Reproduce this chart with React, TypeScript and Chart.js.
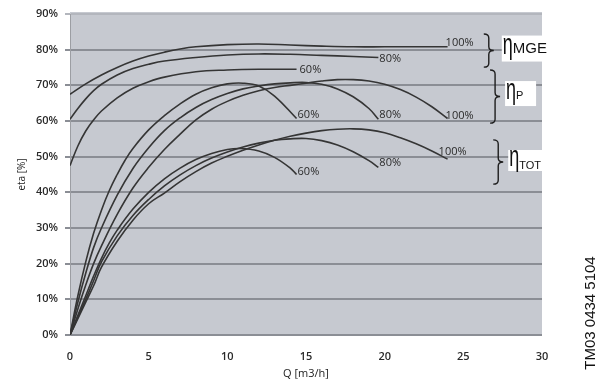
import { useEffect, useRef } from 'react';
import { Chart, registerables } from 'chart.js';

Chart.register(...registerables);

// ---------- data ----------
const yTickValues = [0, 10, 20, 30, 40, 50, 60, 70, 80, 90];
const xTickValues = [0, 5, 10, 15, 20, 25, 30];

// eta MGE
const qMge100 = [0, 1, 2, 3, 4, 5, 6, 7, 8, 10, 12, 14, 16, 18, 20, 22, 24];
const etaMge100 = [67.5, 70.4, 72.9, 75, 76.8, 78.2, 79.3, 80.2, 80.8, 81.4, 81.6, 81.3, 81, 80.8, 80.8, 80.8, 80.8];
const qMge80 = [0, 0.5, 1, 1.5, 2, 3, 4, 5, 6, 8, 10, 12, 14, 16, 18, 19.6];
const etaMge80 = [60.5, 63.5, 66.2, 68.5, 70.3, 72.9, 74.7, 75.9, 76.8, 77.8, 78.5, 78.8, 78.7, 78.4, 78.1, 77.8];
const qMge60 = [0, 0.5, 1, 1.5, 2, 3, 4, 5, 6, 8, 10, 12, 14.4];
const etaMge60 = [47.5, 53, 57.2, 60.3, 62.8, 66.5, 69.2, 71, 72.3, 73.8, 74.3, 74.5, 74.5];

// eta P
const qP60 = [0, 0.5, 1, 1.5, 2, 2.5, 3, 3.5, 4, 5, 6, 7, 8, 9, 10, 11, 12, 13, 14.4];
const etaP60 = [0, 11, 20.5, 28.5, 35, 40.5, 45, 49, 52.3, 57.5, 61.5, 64.8, 67.5, 69.3, 70.4, 70.6, 69.8, 67, 60.7];
const qP80 = [0, 0.5, 1, 1.5, 2, 3, 4, 5, 6, 7, 8, 9, 10, 11, 12, 13, 14, 15, 16, 17, 18, 19, 19.6];
const etaP80 = [0, 9.2, 17.3, 24.5, 30, 39.2, 46.7, 52.5, 57.3, 60.9, 63.8, 66, 67.7, 69, 69.8, 70.4, 70.7, 70.8, 70.3, 69, 66.8, 63.5, 60.5];
const qP100 = [0, 0.5, 1, 1.5, 2, 3, 4, 5, 6, 7, 8, 9, 10, 11, 12, 13, 14, 15, 16, 17, 18, 19, 20, 21, 22, 23, 24];
const etaP100 = [0, 7.3, 14, 20, 25, 33.8, 41.2, 47, 52, 56.3, 60.3, 63.3, 65.5, 67.2, 68.5, 69.4, 70, 70.6, 71.2, 71.6, 71.6, 71.2, 70.3, 68.8, 66.7, 64, 60.7];

// eta TOT
const qTot60 = [0, 0.5, 1, 1.5, 2, 2.5, 3, 4, 5, 6, 7, 8, 9, 10, 10.8, 12, 13, 14, 14.4];
const etaTot60 = [0, 5.5, 11, 16.5, 21.5, 25.8, 29.4, 35.3, 40, 43.8, 46.8, 49.2, 50.9, 52, 52.3, 51.6, 49.8, 46.8, 45];
const qTot80 = [0, 0.5, 1, 1.5, 2, 3, 4, 5, 6, 7, 8, 9, 10, 11, 12, 13, 14, 15, 16, 17, 18, 19, 19.6];
const etaTot80 = [0, 5, 10, 15.2, 20.5, 27.8, 33.5, 38, 41.8, 44.9, 47.5, 49.6, 51.3, 52.7, 53.8, 54.6, 55, 55.1, 54.5, 53.3, 51.4, 48.9, 47];
const qTot100 = [0, 0.5, 1, 1.5, 2, 3, 4, 5, 6, 7, 8, 9, 10, 11, 12, 13, 14, 15, 16, 17, 18, 19, 20, 21, 22, 23, 24];
const etaTot100 = [0, 4.6, 9.2, 13.8, 19, 26.3, 32.2, 36.8, 39.8, 43, 45.8, 48.2, 50.1, 51.8, 53.3, 54.6, 55.7, 56.6, 57.3, 57.7, 57.8, 57.5, 56.7, 55.3, 53.6, 51.6, 49.3];

const endLabels = ['100%', '80%', '60%', '60%', '80%', '100%', '60%', '80%', '100%'];

// group annotations (data coordinates of the braces)
const groupNames = ['MGE', 'P', 'TOT'];
const braceX = [26.3, 26.7, 26.9];
const braceTop = [84.4, 74.3, 54.7];
const braceBottom = [75.1, 59.4, 42.3];

const figureId = 'TM03 0434 5104';

// ---------- styles ----------
const labelOffsets: [number, number][] = [
  [-2, -0.5], [1, 4], [3, 4],
  [1, -1], [1, -1], [-2, 0],
  [1, 0], [1, -1], [-9, -4],
];
const groupBox = [
  { gap: 8, w: 46, h: 26, dy: -2, subSize: 15, subDy: -0.5 },
  { gap: 5, w: 31, h: 25, dy: -3, subSize: 11, subDy: 0 },
  { gap: 5, w: 35, h: 21, dy: -1.5, subSize: 11, subDy: 3 },
];

const curves = [
  [qMge100, etaMge100], [qMge80, etaMge80], [qMge60, etaMge60],
  [qP60, etaP60], [qP80, etaP80], [qP100, etaP100],
  [qTot60, etaTot60], [qTot80, etaTot80], [qTot100, etaTot100],
];

const annotate = {
  id: 'annotate',
  beforeDraw(chart: any) {
    const { ctx, chartArea: a } = chart;
    ctx.save();
    ctx.fillStyle = '#c6c9d0';
    ctx.fillRect(a.left, a.top - 2, a.right - a.left, a.bottom - a.top + 2);
    ctx.restore();
  },
  afterDraw(chart: any) {
    const { ctx } = chart;
    const xs = chart.scales.x;
    const ys = chart.scales.y;
    ctx.save();
    // end labels
    ctx.font = '11px "Open Sans"';
    ctx.fillStyle = '#2a2a2a';
    ctx.textAlign = 'left';
    ctx.textBaseline = 'alphabetic';
    curves.forEach(([q, e], i) => {
      const px = xs.getPixelForValue(q[q.length - 1]);
      const py = ys.getPixelForValue(e[e.length - 1]);
      ctx.fillText(endLabels[i], px + labelOffsets[i][0], py + labelOffsets[i][1]);
    });
    // braces + group names
    groupNames.forEach((name, i) => {
      const x0 = xs.getPixelForValue(braceX[i]);
      const t = ys.getPixelForValue(braceTop[i]);
      const b = ys.getPixelForValue(braceBottom[i]);
      const m = (t + b) / 2;
      const w = 10;
      const r = 4;
      ctx.strokeStyle = '#1e1e1e';
      ctx.lineWidth = 1.4;
      ctx.beginPath();
      ctx.moveTo(x0, t);
      ctx.quadraticCurveTo(x0 + w / 2, t, x0 + w / 2, t + r);
      ctx.lineTo(x0 + w / 2, m - r);
      ctx.quadraticCurveTo(x0 + w / 2, m, x0 + w, m);
      ctx.quadraticCurveTo(x0 + w / 2, m, x0 + w / 2, m + r);
      ctx.lineTo(x0 + w / 2, b - r);
      ctx.quadraticCurveTo(x0 + w / 2, b, x0, b);
      ctx.stroke();
      const g = groupBox[i];
      const bx = x0 + w + g.gap;
      const by = m + g.dy - g.h / 2;
      ctx.fillStyle = '#ffffff';
      ctx.fillRect(bx, by, g.w, g.h);
      ctx.fillStyle = '#111';
      const base = m + g.dy + 5;
      ctx.save();
      ctx.translate(bx + 1, base);
      ctx.scale(0.62, 1);
      ctx.font = '29px "Liberation Sans"';
      ctx.fillText('η', 0, 0);
      ctx.restore();
      ctx.font = g.subSize + 'px "Liberation Sans"';
      ctx.fillText(name, bx + 11, base + g.subDy);
    });
    // figure id
    ctx.save();
    ctx.translate(chart.width - 19, 313);
    ctx.rotate(-Math.PI / 2);
    ctx.font = '15px "Liberation Sans"';
    ctx.fillStyle = '#111';
    ctx.textAlign = 'center';
    ctx.textBaseline = 'middle';
    ctx.fillText(figureId, 0, 0);
    ctx.restore();
    ctx.restore();
  },
};

export default function App() {
  const ref = useRef<HTMLCanvasElement>(null);
  useEffect(() => {
    if (!ref.current) return;
    const chart = new Chart(ref.current, {
      type: 'line',
      data: {
        datasets: curves.map(([q, e], i) => ({
          label: 'c' + i,
          data: q.map((v, k) => ({ x: v, y: e[k] })),
          borderColor: '#353535',
          borderWidth: 1.6,
          pointRadius: 0,
          fill: false,
          tension: 0.4,
        })),
      },
      options: {
        animation: false,
        responsive: false,
        layout: { padding: { left: 0, right: 68, top: 14, bottom: 0 } },
        plugins: { legend: { display: false }, tooltip: { enabled: false } },
        scales: {
          x: {
            type: 'linear',
            min: 0,
            max: 30,
            afterBuildTicks: (s: any) => { s.ticks = xTickValues.map((v) => ({ value: v })); },
            ticks: { color: '#2a2a2a', font: { family: 'Open Sans', size: 11, weight: 600 }, padding: 7, maxRotation: 0 },
            grid: { display: false },
            border: { display: false },
            title: { display: true, text: 'Q [m3/h]', color: '#222', font: { family: 'Open Sans', size: 11 }, padding: { top: 0, bottom: 3 } },
            afterFit: (s: any) => { s.height = 48; },
          },
          y: {
            min: 0,
            max: 90,
            afterBuildTicks: (s: any) => { s.ticks = yTickValues.map((v) => ({ value: v })); },
            ticks: { color: '#2a2a2a', font: { family: 'Open Sans', size: 11, weight: 600 }, padding: 7, callback: (v: any) => v + '%' },
            grid: {
              color: (c: any) => (c.tick && c.tick.value === 90 ? '#b3b6bd' : '#8b8e95'),
              lineWidth: 2,
              tickLength: 5,
            },
            border: { display: true, color: '#9c9ea3', width: 1 },
            title: { display: true, text: 'eta [%]', color: '#222', font: { family: 'Open Sans', size: 10 }, padding: { top: 16 } },
            afterFit: (s: any) => { s.width = 70; },
          },
        },
      },
      plugins: [annotate],
    });
    return () => chart.destroy();
  }, []);
  return (
    <div style={{ position: 'absolute', left: 0, top: 0, width: 610, height: 383, background: '#fff' }}>
      <canvas ref={ref} width={610} height={383} style={{ display: 'block' }} />
    </div>
  );
}
